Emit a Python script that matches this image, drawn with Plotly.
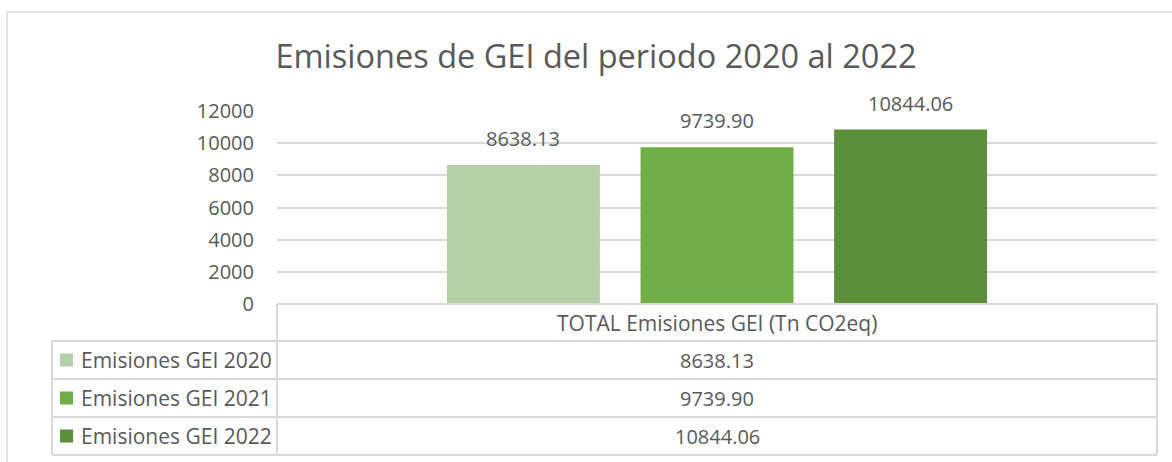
import plotly.graph_objects as go

# ---- data ----
category = ["TOTAL Emisiones GEI (Tn CO2eq)"]
series_names = ["Emisiones GEI 2020", "Emisiones GEI 2021", "Emisiones GEI 2022"]
values = [8638.13, 9739.90, 10844.06]
colors = ["#B5CFA8", "#70AD47", "#5B8F39"]
y_ticks = [0, 2000, 4000, 6000, 8000, 10000, 12000]
title_text = "Emisiones de GEI del periodo 2020 al 2022"

W, H = 1172, 462
PL, PR, PT, PB = 277, 1157, 111, 304  # plot area in pixels
FONT = "Open Sans"
TXT = "#595959"
GRID = "#D9D9D9"
BARGAP, BARGROUPGAP = 0.34, 0.21


def X(px):
    return (px - PL) / (PR - PL)


def Y(py):
    return (PB - py) / (PB - PT)


fig = go.Figure()
for name, v, c in zip(series_names, values, colors):
    fig.add_trace(go.Bar(
        x=category, y=[v], name=name, marker=dict(color=c, line=dict(width=0)),
        hoverinfo="skip",
    ))

shapes = []
annotations = []

# data labels above bars (positioned on the axis scales)
n = len(values)
slot = (1 - BARGAP) / n
for i, v in enumerate(values):
    annotations.append(dict(xref="x", yref="y", x=(i - (n - 1) / 2) * slot, y=v,
                            text=f"{v:.2f}", showarrow=False, xanchor="center", yanchor="bottom",
                            yshift=11, font=dict(family=FONT, size=20, color=TXT)))

# outer chart border (top and left visible)
shapes.append(dict(type="line", xref="paper", yref="paper", x0=X(7), x1=X(1172), y0=Y(12), y1=Y(12),
                   line=dict(color=GRID, width=1.5)))
shapes.append(dict(type="line", xref="paper", yref="paper", x0=X(7), x1=X(7), y0=Y(12), y1=Y(462),
                   line=dict(color=GRID, width=1.5)))

# data table grid
row_edges = [304, 341, 379, 417, 455]
for i, ry in enumerate(row_edges):
    x0 = PL if i == 0 else 52
    shapes.append(dict(type="line", xref="paper", yref="paper", x0=X(x0), x1=X(PR), y0=Y(ry), y1=Y(ry),
                       line=dict(color=GRID, width=2)))
for vx, top in [(52, 341), (PL, 304), (PR, 304)]:
    shapes.append(dict(type="line", xref="paper", yref="paper", x0=X(vx), x1=X(vx), y0=Y(top), y1=Y(455),
                       line=dict(color=GRID, width=2)))

# header: category name
annotations.append(dict(xref="paper", yref="paper", x=X((PL + PR) / 2), y=Y((304 + 341) / 2),
                        text=category[0], showarrow=False, xanchor="center", yanchor="middle",
                        font=dict(family=FONT, size=21, color=TXT)))

# table rows: legend key, series name, value
for i, (name, v, c) in enumerate(zip(series_names, values, colors)):
    cy = (row_edges[i + 1] + row_edges[i + 2]) / 2
    shapes.append(dict(type="rect", xref="paper", yref="paper", x0=X(60), x1=X(73),
                       y0=Y(cy - 6.5), y1=Y(cy + 6.5), fillcolor=c, line=dict(width=0)))
    annotations.append(dict(xref="paper", yref="paper", x=X(79), y=Y(cy), text=name, showarrow=False,
                            xanchor="left", yanchor="middle", font=dict(family=FONT, size=21, color=TXT)))
    annotations.append(dict(xref="paper", yref="paper", x=X((PL + PR) / 2), y=Y(cy), text=f"{v:.2f}",
                            showarrow=False, xanchor="center", yanchor="middle",
                            font=dict(family=FONT, size=20, color=TXT)))

fig.update_layout(
    width=W, height=H,
    margin=dict(l=PL, r=W - PR, t=PT, b=H - PB, pad=0),
    paper_bgcolor="white", plot_bgcolor="white",
    barmode="group", bargap=BARGAP, bargroupgap=BARGROUPGAP,
    showlegend=False,
    title=dict(text=title_text, x=596 / W, xref="container", xanchor="center",
               y=1 - 57 / H, yref="container", yanchor="middle",
               font=dict(family=FONT, size=32.5, color=TXT)),
    xaxis=dict(range=[-0.5, 0.5], showticklabels=False, showgrid=False, zeroline=False,
               showline=False, fixedrange=True),
    yaxis=dict(range=[0, 12000], tickvals=y_ticks, ticktext=[str(t) for t in y_ticks],
               showgrid=True, gridcolor=GRID, gridwidth=1.6, zeroline=False, showline=False,
               ticks="", ticklabelstandoff=22, fixedrange=True,
               tickfont=dict(family=FONT, size=20, color=TXT)),
    shapes=shapes, annotations=annotations,
    font=dict(family=FONT, color=TXT),
)

fig.write_html("out.html", config={"displayModeBar": False},
               post_script="document.body.style.margin='0';")
